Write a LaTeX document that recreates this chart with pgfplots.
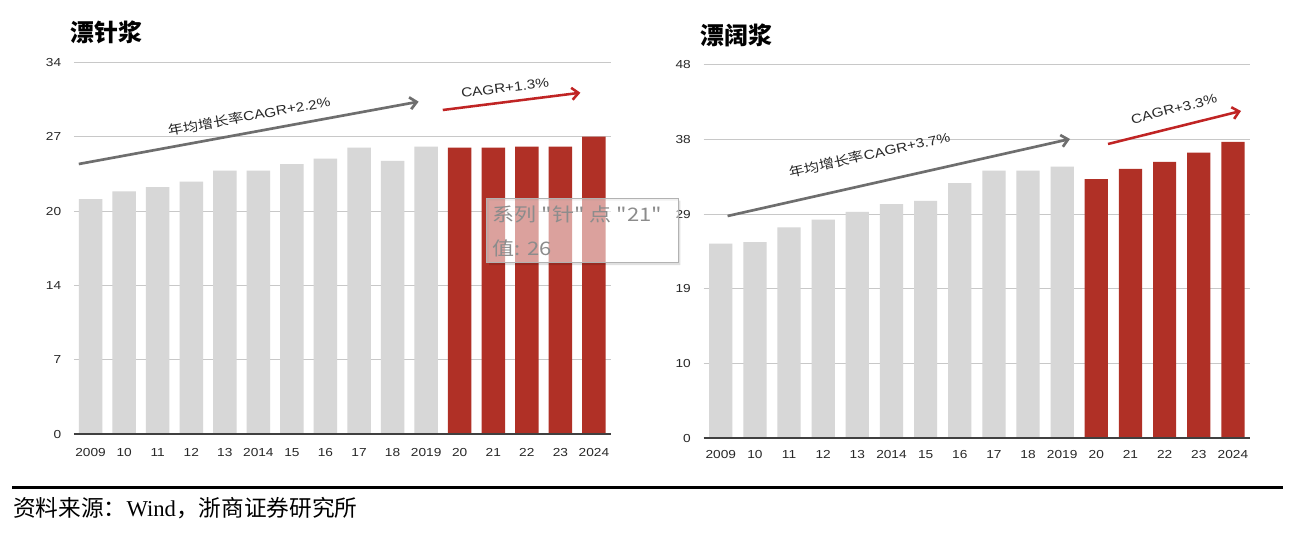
\documentclass[border=0pt]{standalone}
\usepackage{fontspec}
\usepackage{pgfplots}
\pgfplotsset{compat=1.18}
\usetikzlibrary{arrows.meta}
\setmainfont{Liberation Sans}
\newfontfamily\arialx{Liberation Sans}[FakeStretch=1.18]
\newfontfamily\cjk{Noto Sans CJK SC}
\newfontfamily\cjkx{Noto Sans CJK SC}[FakeStretch=1.18]
\newfontfamily\timesf{Liberation Serif}

\definecolor{barGray}{RGB}{215,215,215}
\definecolor{barRed}{RGB}{176,48,38}
\definecolor{gridGray}{RGB}{200,200,200}
\definecolor{axisLine}{RGB}{64,64,64}
\definecolor{arrowGray}{RGB}{110,110,110}
\definecolor{arrowRed}{RGB}{192,36,36}
\definecolor{tickText}{RGB}{40,40,40}

% 漂针浆
\pgfplotstableread{
x y
0 21.5
1 22.2
2 22.6
3 23.1
4 24.1
5 24.1
6 24.7
7 25.2
8 26.2
9 25.0
10 26.3
}\zhenhist
\pgfplotstableread{
x y
11 26.2
12 26.2
13 26.3
14 26.3
15 27.2
}\zhenfut
% 漂阔浆
\pgfplotstableread{
x y
0 25.0
1 25.2
2 27.1
3 28.1
4 29.1
5 30.1
6 30.5
7 32.8
8 34.4
9 34.4
10 34.9
}\kuohist
\pgfplotstableread{
x y
11 33.3
12 34.6
13 35.5
14 36.7
15 38.1
}\kuofut

\pgfplotsset{
  pulp/.style={
    scale only axis,
    anchor=south west,
    xmin=-0.5, xmax=15.5, ymin=0,
    axis line style={draw=none},
    tick style={draw=none},
    major tick length=0pt,
    ymajorgrids=true,
    grid style={gridGray, line width=0.75pt},
    xtick={0,...,15},
    xticklabels={2009,10,11,12,13,2014,15,16,17,18,2019,20,21,22,23,2024},
    tick label style={font=\arialx\fontsize{8.7}{10}\selectfont, text=tickText, inner sep=0pt},
    /pgf/number format/assume math mode=true,
    clip=false,
  },
}

\begin{document}
\begin{tikzpicture}
\fill[white] (0,0) rectangle (972.75pt,399.75pt);

% ---- 左图 漂针浆
\begin{axis}[pulp,
  at={(55.35pt,74.03pt)},
  width=402.7pt, height=279pt,
  ymax=34,
  ytick={0,6.8,13.6,20.4,27.2,34},
  yticklabels={0,7,14,20,27,34},
  yticklabel style={anchor=east, xshift=-9.3pt},
  xticklabel style={anchor=north, yshift=-10.5pt},
]
\addplot[ybar, bar width=0.7, bar shift=0pt, fill=barGray, draw=none] table[x=x,y=y] {\zhenhist};
\addplot[ybar, bar width=0.7, bar shift=0pt, fill=barRed, draw=none] table[x=x,y=y] {\zhenfut};
\draw[axisLine, line width=1.5pt] (axis cs:-0.5,0) -- (axis cs:15.5,0);
\end{axis}

% ---- 右图 漂阔浆
\begin{axis}[pulp,
  at={(527.78pt,71.03pt)},
  width=409.7pt, height=280.2pt,
  ymax=48,
  ytick={0,9.6,19.2,28.8,38.4,48},
  yticklabels={0,10,19,29,38,48},
  yticklabel style={anchor=east, xshift=-9.5pt},
  xticklabel style={anchor=north, yshift=-8.8pt},
]
\addplot[ybar, bar width=0.68, bar shift=0pt, fill=barGray, draw=none] table[x=x,y=y] {\kuohist};
\addplot[ybar, bar width=0.68, bar shift=0pt, fill=barRed, draw=none] table[x=x,y=y] {\kuofut};
\draw[axisLine, line width=1.5pt] (axis cs:-0.5,0) -- (axis cs:15.5,0);
\end{axis}

% 标题
\node[anchor=west, inner sep=0pt] at (52.9pt,375.75pt) {\cjk\bfseries\fontsize{18}{20}\selectfont 漂针浆};
\node[anchor=west, inner sep=0pt] at (525pt,373.5pt) {\cjk\bfseries\fontsize{18}{20}\selectfont 漂阔浆};

% 增长箭头
\draw[arrowGray, line width=2pt, -{Straight Barb[length=5pt, width=9pt]}] (59.1pt,276.75pt) -- (314.0pt,323.5pt);
\draw[arrowRed, line width=1.9pt, -{Straight Barb[length=5pt, width=9pt]}] (332.1pt,317.25pt) -- (435.3pt,330.2pt);
\node[rotate=10.4, inner sep=0pt, text=tickText] at (186.75pt,312.75pt) {\cjkx\fontsize{9.75}{11}\selectfont 年均增长率\arialx CAGR+2.2\%};
\node[rotate=7, inner sep=0pt, text=tickText] at (378.75pt,333.75pt) {\arialx\fontsize{9.75}{11}\selectfont CAGR+1.3\%};

\draw[arrowGray, line width=2pt, -{Straight Barb[length=5pt, width=9pt]}] (545.7pt,237.75pt) -- (802.5pt,295.5pt);
\draw[arrowRed, line width=1.9pt, -{Straight Barb[length=5pt, width=9pt]}] (831pt,291.75pt) -- (930.75pt,316.5pt);
\node[rotate=12.7, inner sep=0pt, text=tickText] at (652.1pt,283.9pt) {\cjkx\fontsize{9.75}{11}\selectfont 年均增长率\arialx CAGR+3.7\%};
\node[rotate=14, inner sep=0pt, text=tickText] at (880.5pt,318pt) {\arialx\fontsize{9.75}{11}\selectfont CAGR+3.3\%};

% 提示框
\fill[black, opacity=0.12, even odd rule] (366.8pt,201pt) rectangle (510.2pt,249.3pt) (365pt,202.7pt) rectangle (508.5pt,251pt);
\fill[white, opacity=0.55] (365pt,202.7pt) rectangle (508.5pt,251pt);
\draw[gray!60, line width=0.6pt] (365pt,202.7pt) rectangle (508.5pt,251pt);
\node[anchor=west, inner sep=0pt, text=black!45] at (369.5pt,238.8pt) {\cjkx\fontsize{14}{16}\selectfont 系列 "针" 点 "21"};
\node[anchor=west, inner sep=0pt, text=black!45] at (369.5pt,213.3pt) {\cjkx\fontsize{14}{16}\selectfont 值: 26};

% 资料来源
\draw[black, line width=1.75pt] (9pt,34.1pt) -- (962.25pt,34.1pt);
\node[anchor=west, inner sep=0pt] at (9.75pt,18.75pt) {\cjk\fontsize{17}{19}\selectfont 资料来源：{\timesf Wind}，浙商证券研究所};
\end{tikzpicture}
\end{document}
